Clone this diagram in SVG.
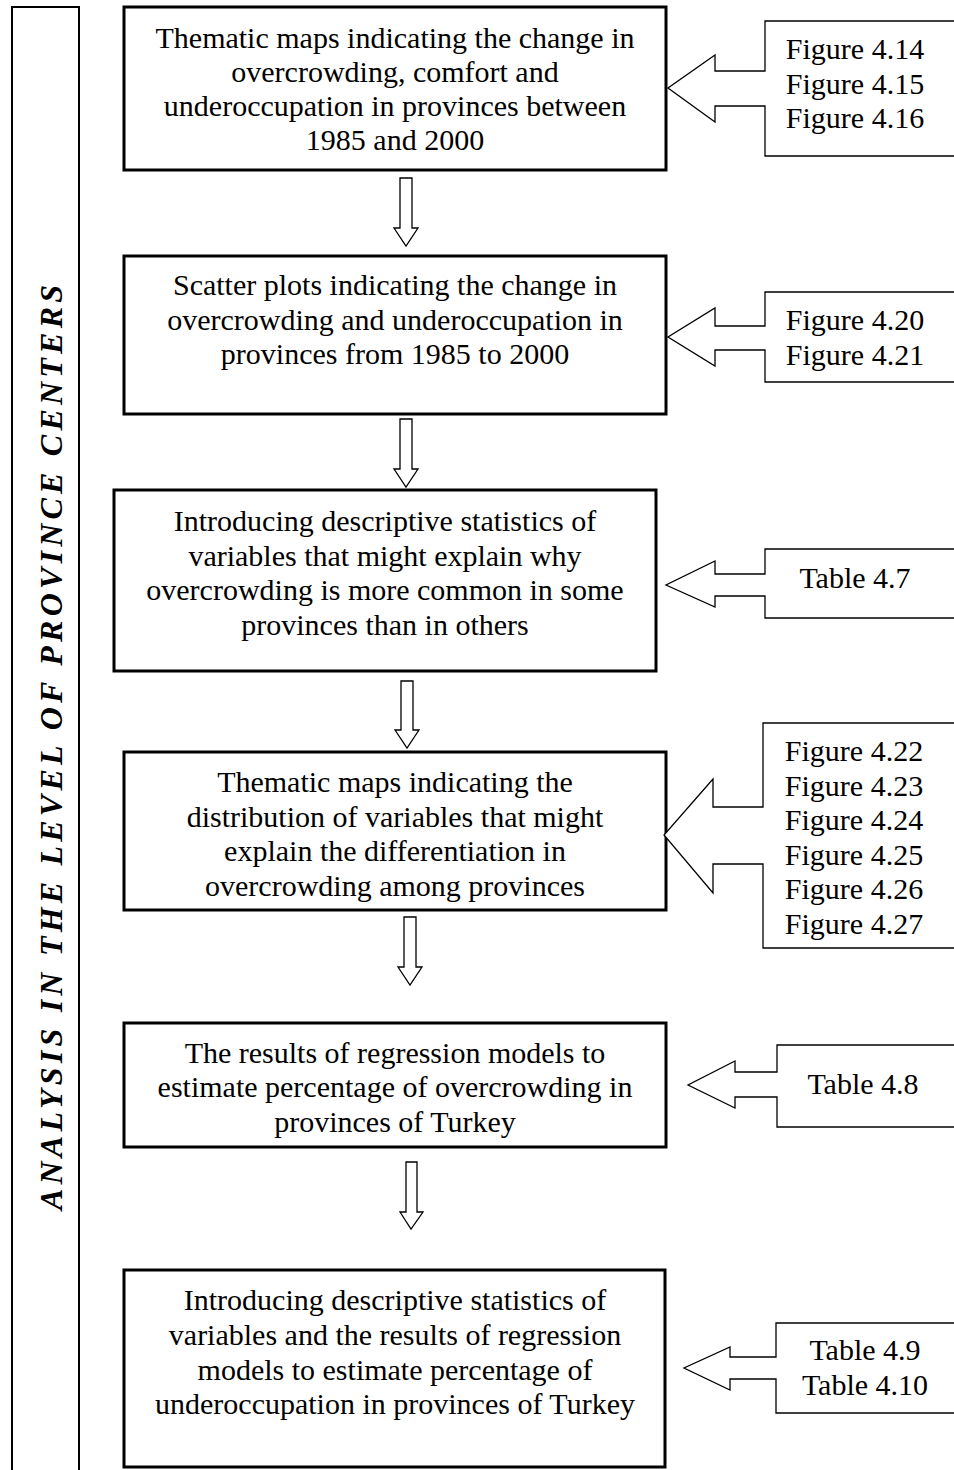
<svg xmlns="http://www.w3.org/2000/svg" width="954" height="1470" viewBox="0 0 954 1470">
  <style>
    .box { fill: #fff; stroke: #000; stroke-width: 3; }
    .frame { fill: none; stroke: #000; stroke-width: 2; }
    .call { fill: #fff; stroke: #000; stroke-width: 1.3; stroke-linejoin: miter; }
    .down { fill: #fff; stroke: #000; stroke-width: 1.3; }
    text { font-family: "Liberation Serif", "Times New Roman", serif; font-size: 30px; fill: #000; }
    .c { text-anchor: middle; }
    .side { font-family: "Liberation Serif", "Times New Roman", serif; font-size: 32px; font-weight: bold; font-style: italic; }
  </style>
  <rect width="954" height="1470" fill="#fff"/>

  <!-- vertical caption panel -->
  <g id="caption">
    <rect class="frame" x="12" y="7" width="67" height="1480"/>
    <text class="side" transform="translate(62,1210) rotate(-90)" textLength="925" lengthAdjust="spacing">ANALYSIS IN THE LEVEL OF PROVINCE CENTERS</text>
  </g>

  <!-- connectors between steps -->
  <g id="connectors">
    <polygon class="down" points="400,178 412,178 412,228 418,228 406,246 394,228 400,228"/>
    <polygon class="down" points="400,419 412,419 412,469 418,469 406,487 394,469 400,469"/>
    <polygon class="down" points="401,681 413,681 413,730 419,730 407,748 395,730 401,730"/>
    <polygon class="down" points="404,917 416,917 416,967 422,967 410,985 398,967 404,967"/>
    <polygon class="down" points="406,1162 417,1162 417,1212 423,1212 411,1229 400,1212 406,1212"/>
  </g>

  <!-- step 1 -->
  <g id="step1">
    <rect class="box" x="124" y="7" width="542" height="163"/>
    <text class="c" x="395" y="48">Thematic maps indicating the change in</text>
    <text class="c" x="395" y="82">overcrowding, comfort and</text>
    <text class="c" x="395" y="116">underoccupation in provinces between</text>
    <text class="c" x="395" y="150">1985 and 2000</text>
  </g>
  <g id="ref1">
    <polygon class="call" points="960,21 765,21 765,71 715,71 715,55 668,88 715,122 715,106 765,106 765,156 960,156"/>
    <text class="c" x="855" y="59">Figure 4.14</text>
    <text class="c" x="855" y="94">Figure 4.15</text>
    <text class="c" x="855" y="128">Figure 4.16</text>
  </g>

  <!-- step 2 -->
  <g id="step2">
    <rect class="box" x="124" y="256" width="542" height="158"/>
    <text class="c" x="395" y="295">Scatter plots indicating the change in</text>
    <text class="c" x="395" y="330">overcrowding and underoccupation in</text>
    <text class="c" x="395" y="364">provinces from 1985 to 2000</text>
  </g>
  <g id="ref2">
    <polygon class="call" points="960,292 765,292 765,326 715,326 715,308 668,337 715,366 715,350 765,350 765,382 960,382"/>
    <text class="c" x="855" y="330">Figure 4.20</text>
    <text class="c" x="855" y="365">Figure 4.21</text>
  </g>

  <!-- step 3 -->
  <g id="step3">
    <rect class="box" x="114" y="490" width="542" height="181"/>
    <text class="c" x="385" y="531">Introducing descriptive statistics of</text>
    <text class="c" x="385" y="566">variables that might explain why</text>
    <text class="c" x="385" y="600">overcrowding is more common in some</text>
    <text class="c" x="385" y="635">provinces than in others</text>
  </g>
  <g id="ref3">
    <polygon class="call" points="960,549 765,549 765,574 715,574 715,561 666,585 715,607 715,596 765,596 765,618 960,618"/>
    <text class="c" x="855" y="588">Table 4.7</text>
  </g>

  <!-- step 4 -->
  <g id="step4">
    <rect class="box" x="124" y="752" width="542" height="158"/>
    <text class="c" x="395" y="792">Thematic maps indicating the</text>
    <text class="c" x="395" y="827">distribution of variables that might</text>
    <text class="c" x="395" y="861">explain the differentiation in</text>
    <text class="c" x="395" y="896">overcrowding among provinces</text>
  </g>
  <g id="ref4">
    <polygon class="call" points="960,723 763,723 763,807 713,807 713,779 664,835 713,893 713,864 763,864 763,948 960,948"/>
    <text class="c" x="854" y="761">Figure 4.22</text>
    <text class="c" x="854" y="796">Figure 4.23</text>
    <text class="c" x="854" y="830">Figure 4.24</text>
    <text class="c" x="854" y="865">Figure 4.25</text>
    <text class="c" x="854" y="899">Figure 4.26</text>
    <text class="c" x="854" y="934">Figure 4.27</text>
  </g>

  <!-- step 5 -->
  <g id="step5">
    <rect class="box" x="124" y="1023" width="542" height="124"/>
    <text class="c" x="395" y="1063">The results of regression models to</text>
    <text class="c" x="395" y="1097">estimate percentage of overcrowding in</text>
    <text class="c" x="395" y="1132">provinces of Turkey</text>
  </g>
  <g id="ref5">
    <polygon class="call" points="960,1045 777,1045 777,1072 735,1072 735,1061 688,1085 735,1108 735,1097 777,1097 777,1127 960,1127"/>
    <text class="c" x="863" y="1094">Table 4.8</text>
  </g>

  <!-- step 6 -->
  <g id="step6">
    <rect class="box" x="124" y="1270" width="541" height="197"/>
    <text class="c" x="395" y="1310">Introducing descriptive statistics of</text>
    <text class="c" x="395" y="1345">variables and the results of regression</text>
    <text class="c" x="395" y="1380">models to estimate percentage of</text>
    <text class="c" x="395" y="1414">underoccupation in provinces of Turkey</text>
  </g>
  <g id="ref6">
    <polygon class="call" points="960,1323 776,1323 776,1357 730,1357 730,1347 684,1368 730,1390 730,1379 776,1379 776,1413 960,1413"/>
    <text class="c" x="865" y="1360">Table 4.9</text>
    <text class="c" x="865" y="1395">Table 4.10</text>
  </g>
</svg>
